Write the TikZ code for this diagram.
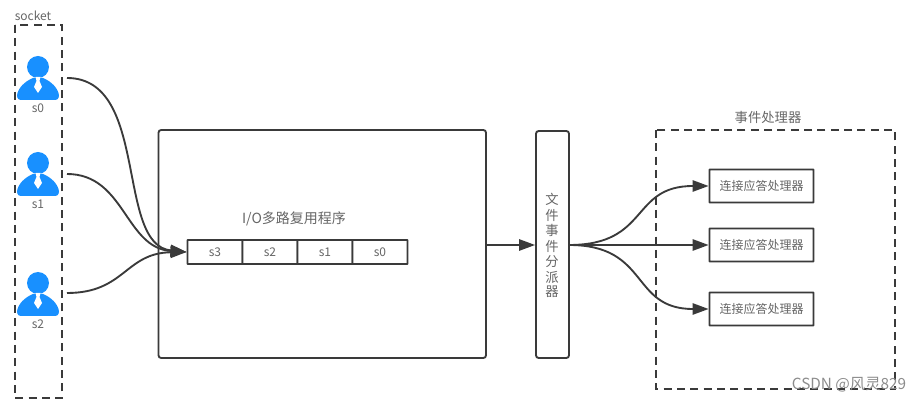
\documentclass[tikz,border=0pt]{standalone}
\usepackage{fontspec}
\setmainfont{Liberation Sans}
\newfontfamily\cjk{Noto Sans CJK SC}
\usetikzlibrary{arrows.meta}
\definecolor{ink}{HTML}{3A3A3A}
\definecolor{txt}{HTML}{666666}
\definecolor{personblue}{HTML}{1890FF}
\tikzset{
  x=0.75pt,y=-0.75pt,
  box/.style={draw=ink,line width=1.4pt,fill=white,inner sep=0pt},
  framebox/.style={draw=ink,line width=1.3pt,dash pattern=on 6pt off 4pt},
  flow/.style={draw=ink,line width=1.4pt,-{Triangle[length=12pt,width=8.5pt]}},
  label/.style={text=txt,font=\cjk\fontsize{10}{12}\selectfont,inner sep=0pt},
  iolabel/.style={text=txt,font=\cjk\fontsize{10.5}{12}\selectfont,inner sep=0pt},
  small/.style={text=txt,font=\cjk\fontsize{9}{11}\selectfont,inner sep=0pt},
  cell/.style={box,small,rounded corners=0.4pt,minimum width=55*0.75pt,minimum height=24*0.75pt},
  handler/.style={box,small,rounded corners=0.4pt,minimum width=104*0.75pt,minimum height=33*0.75pt},
}
\newcommand{\personicon}[3]{%
  \begin{scope}[shift={(#1,#2)}]
    \fill[personblue] (0,-11) circle[radius=11*0.75pt];
    \fill[personblue] (-17,22) .. controls (-21,22) and (-21.5,18) .. (-20.5,15)
      .. controls (-18,7) and (-10,2) .. (-5,0) -- (5,0)
      .. controls (10,2) and (18,7) .. (20.5,15) .. controls (21.5,18) and (21,22) .. (17,22) -- cycle;
    \fill[white] (-2.5,-1) -- (2.5,-1) -- (1.5,3) -- (4,9) -- (0,15) -- (-4,9) -- (-1.5,3) -- cycle;
    \node[small] at (0,30) {#3};
  \end{scope}}
\begin{document}
\begin{tikzpicture}
\useasboundingbox (0,0) rectangle (920,402);
% frames
\draw[framebox] (15,25) rectangle (62,398);
\draw[framebox] (656,130) rectangle (895,389);
\node[small] (socketlabel) at (33,16) {socket};
\node[label] (handlertitle) at (768,117) {事件处理器};
% people
\personicon{38}{78}{s0}
\personicon{38}{174}{s1}
\personicon{38}{294}{s2}
\coordinate (p0) at (67,78);
\coordinate (p1) at (67,174);
\coordinate (p2) at (67,293);
% main boxes
\draw[box,rounded corners=2pt] (158.5,130) rectangle (486,358);
\node[iolabel] (iotitle) at (294,219) {I/O多路复用程序};
\node[cell] (q3) at (215,252) {s3};
\node[cell] (q2) at (270,252) {s2};
\node[cell] (q1) at (325,252) {s1};
\node[cell] (q0) at (380,252) {s0};
\node[box,rounded corners=2pt,minimum width=33*0.75pt,minimum height=227*0.75pt] (disp) at (552.5,244.5) {};
\foreach \t/\y in {文/199,件/215,事/230,件/246,分/262,派/277,器/292}{
  \node[label] at (552,\y) {\t};
}
\node[handler] (h0) at (761.5,186) {连接应答处理器};
\node[handler] (h1) at (761.5,245) {连接应答处理器};
\node[handler] (h2) at (761.5,309) {连接应答处理器};
% connectors
\coordinate (qin) at (q3.west);
\draw[flow] (p0) .. controls (150,78) and (115,245) .. (qin);
\draw[flow] (p1) .. controls (125,174) and (125,248) .. (qin);
\draw[flow] (p2) .. controls (125,293) and (125,253) .. (qin);
\coordinate (bigout) at (486,245);
\draw[flow] (bigout) -- (disp.west |- bigout);
\coordinate (dout) at (569,245);
\draw[flow] (dout) .. controls (650,245) and (630,186) .. (h0.west);
\draw[flow] (dout) -- (h1.west);
\draw[flow] (dout) .. controls (650,245) and (630,309) .. (h2.west);
\node[inner sep=0pt,text=black!45,font=\cjk\fontsize{11.5}{13}\selectfont] (mark) at (849,385) {CSDN @风灵829};
\end{tikzpicture}
\end{document}
